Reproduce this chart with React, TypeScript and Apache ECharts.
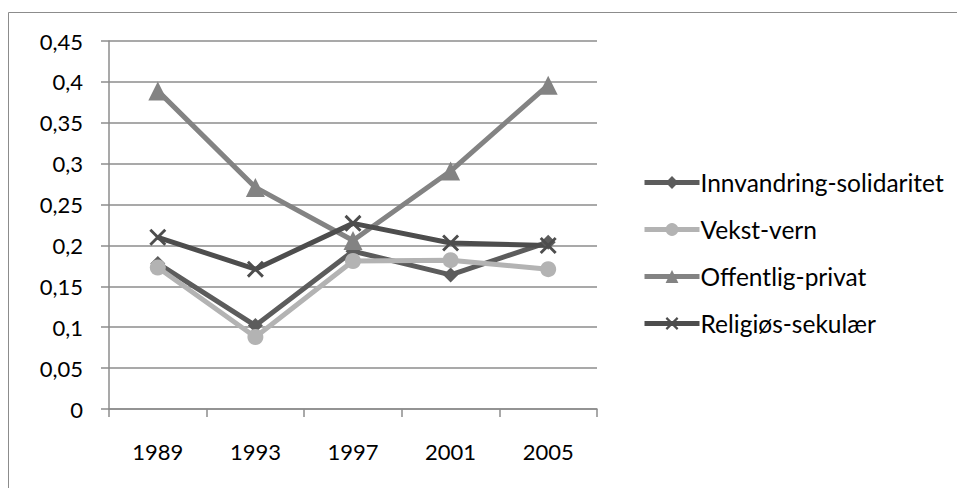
import React, { useEffect, useRef } from "react";
import * as echarts from "echarts";

const categories = ["1989", "1993", "1997", "2001", "2005"];
const innvandring = [0.178, 0.102, 0.193, 0.164, 0.204];
const vekstVern = [0.173, 0.088, 0.181, 0.182, 0.171];
const offentligPrivat = [0.389, 0.271, 0.206, 0.291, 0.396];
const religiosSekular = [0.21, 0.171, 0.227, 0.203, 0.2];
const seriesNames = ["Innvandring-solidaritet", "Vekst-vern", "Offentlig-privat", "Religiøs-sekulær"];

const FONT = "Lato, 'Open Sans', sans-serif";
const XPATH = "path://M0,1.2L1.2,0L10,8.8L8.8,10Z M8.8,0L10,1.2L1.2,10L0,8.8Z";

export default function App() {
  const ref = useRef<HTMLDivElement>(null);
  useEffect(() => {
    if (!ref.current) return;
    const chart = echarts.init(ref.current, null, { renderer: "svg" });
    const mk = (name: string, data: number[], color: string, symbol: string, size: number) => ({
      name,
      type: "line",
      data,
      symbol,
      symbolSize: size,
      lineStyle: { color, width: 5 },
      itemStyle: { color },
      emphasis: { disabled: true },
    });
    chart.setOption({
      animation: false,
      backgroundColor: "#fff",
      textStyle: { fontFamily: FONT },
      graphic: [
        {
          type: "rect",
          shape: { x: 8.5, y: 12.5, width: 970, height: 500 },
          style: { fill: "none", stroke: "#8c8c8c", lineWidth: 1 },
          silent: true,
        },
      ],
      grid: { left: 109, right: 360, top: 41, bottom: 79 },
      legend: {
        orient: "vertical",
        left: 637,
        top: 165,
        itemWidth: 55,
        itemHeight: 16,
        itemGap: 22,
        lineStyle: { width: 5 },
        textStyle: { fontFamily: FONT, fontSize: 24.5, color: "#000", padding: [0, 0, 0, -4] },
        data: seriesNames,
      },
      xAxis: {
        type: "category",
        data: categories,
        boundaryGap: true,
        axisLine: { lineStyle: { color: "#8c8c8c", width: 1.5 } },
        axisTick: { show: true, length: 8, lineStyle: { color: "#8c8c8c", width: 1.5 } },
        axisLabel: { color: "#000", fontSize: 22, fontFamily: FONT, margin: 31 },
        splitLine: { show: false },
      },
      yAxis: {
        type: "value",
        min: 0,
        max: 0.45,
        interval: 0.05,
        axisLine: { show: true, lineStyle: { color: "#8c8c8c", width: 1.5 } },
        axisTick: { show: true, length: 8, lineStyle: { color: "#8c8c8c", width: 1.5 } },
        axisLabel: {
          color: "#000",
          fontSize: 22,
          fontFamily: FONT,
          margin: 26,
          formatter: (v: number) => String(Math.round(v * 100) / 100).replace(".", ","),
        },
        splitLine: { show: true, lineStyle: { color: "#8c8c8c", width: 1.5 } },
      },
      series: [
        mk(seriesNames[0], innvandring, "#5c5c5c", "diamond", 15),
        mk(seriesNames[1], vekstVern, "#b3b3b3", "circle", 16),
        mk(seriesNames[2], offentligPrivat, "#838383", "triangle", 19),
        mk(seriesNames[3], religiosSekular, "#4d4d4d", XPATH, 17),
      ],
    });
    return () => chart.dispose();
  }, []);
  return <div ref={ref} style={{ width: 957, height: 488, position: "absolute", left: 0, top: 0 }} />;
}
